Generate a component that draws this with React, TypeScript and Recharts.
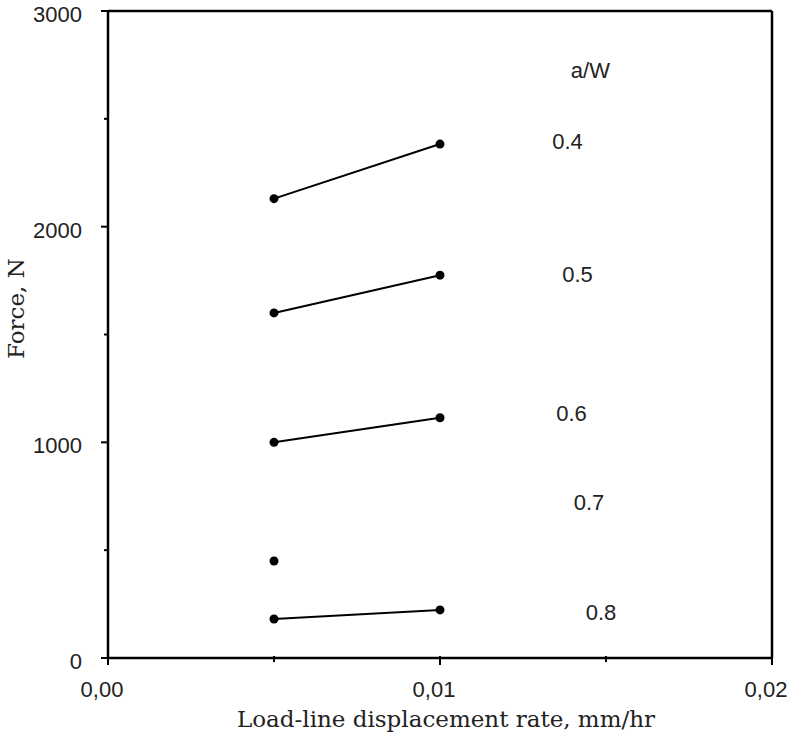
import { ComposedChart, Line, Scatter, XAxis, YAxis, ReferenceLine } from "recharts";

// displacement rates (mm/hr) at which each crack length was tested
const RATES = [0.005, 0.01];

// force (N) per a/W
const FORCE_04 = [2130, 2383];
const FORCE_05 = [1600, 1775];
const FORCE_06 = [1000, 1114];
const FORCE_07 = [450];
const FORCE_08 = [181, 223];

const SERIES = [
  { name: "0.4", values: FORCE_04 },
  { name: "0.5", values: FORCE_05 },
  { name: "0.6", values: FORCE_06 },
  { name: "0.7", values: FORCE_07 },
  { name: "0.8", values: FORCE_08 },
];

// text annotations, placed in data units
const NOTE_TEXT = ["a/W", "0.4", "0.5", "0.6", "0.7", "0.8"];
const NOTE_X = [0.01453, 0.01384, 0.01414, 0.01396, 0.01449, 0.01485];
const NOTE_Y = [2724, 2397, 1776, 1136, 723, 209];

const X_TICKS = [0, 0.005, 0.01, 0.015, 0.02];
const Y_TICKS = [0, 500, 1000, 1500, 2000, 2500, 3000];

const SANS = "'Liberation Sans', Arial, sans-serif";
const SERIF = "'DejaVu Serif', serif";
const INK = "#222";

const notes = NOTE_TEXT.map((text, i) => ({ x: NOTE_X[i], y: NOTE_Y[i], text }));

const YTick = ({ x, y, payload }: any) => {
  const major = payload.value % 1000 === 0;
  return (
    <g>
      <line x1={x - (major ? 7 : 4)} x2={x} y1={y} y2={y} stroke="#000" strokeWidth={2} />
      {major && (
        <text x={x - 26} y={y + 11} textAnchor="end" fontFamily={SANS} fontSize={22} fill={INK}>
          {payload.value}
        </text>
      )}
    </g>
  );
};

const XTick = ({ x, y, payload }: any) => {
  const major = Math.abs((payload.value * 100) % 1) < 1e-6;
  return (
    <g>
      <line x1={x} x2={x} y1={y - 2} y2={y + (major ? 7 : 4)} stroke="#000" strokeWidth={2} />
      {major && (
        <text x={x - 6} y={y + 39} textAnchor="middle" fontFamily={SANS} fontSize={22} fill={INK}>
          {payload.value.toFixed(2).replace(".", ",")}
        </text>
      )}
    </g>
  );
};

const YTitle = ({ viewBox }: any) => {
  const x = viewBox.x + 24;
  const y = viewBox.y + viewBox.height * 0.46;
  return (
    <text x={x} y={y} transform={`rotate(-90, ${x}, ${y})`} textAnchor="middle" fontFamily={SERIF} fontSize={23} fill={INK}>
      Force, N
    </text>
  );
};

const XTitle = ({ viewBox }: any) => (
  <text x={viewBox.x + viewBox.width / 2 + 6} y={viewBox.y + 69} textAnchor="middle" fontFamily={SERIF} fontSize={23} fill={INK}>
    Load-line displacement rate, mm/hr
  </text>
);

const NoteShape = ({ cx, cy, payload }: any) => (
  <text x={cx} y={cy} textAnchor="middle" dominantBaseline="central" fontFamily={SANS} fontSize={22} fill={INK}>
    {payload.text}
  </text>
);

export default function App() {
  return (
    <div style={{ position: "fixed", left: 0, top: 0, background: "#fff" }}>
      <ComposedChart width={790} height={742} margin={{ top: 11, right: 18, bottom: 0, left: 0 }}>
        <XAxis
          type="number"
          dataKey="x"
          domain={[0, 0.02]}
          ticks={X_TICKS}
          interval={0}
          height={84}
          tickSize={0}
          tickMargin={0}
          tick={<XTick />}
          axisLine={{ stroke: "#000", strokeWidth: 2.5 }}
          label={<XTitle />}
        />
        <YAxis
          type="number"
          dataKey="y"
          domain={[0, 3000]}
          ticks={Y_TICKS}
          interval={0}
          width={108}
          tickSize={0}
          tickMargin={0}
          tick={<YTick />}
          axisLine={{ stroke: "#000", strokeWidth: 2.5 }}
          label={<YTitle />}
        />
        <ReferenceLine y={3000} stroke="#000" strokeWidth={2.5} />
        <ReferenceLine x={0.02} stroke="#000" strokeWidth={2.5} />
        {SERIES.map((s) => (
          <Line
            key={s.name}
            data={s.values.map((v, i) => ({ x: RATES[i], y: v }))}
            dataKey="y"
            stroke="#000"
            strokeWidth={2}
            dot={{ r: 4.5, fill: "#000", stroke: "#000", strokeWidth: 0 }}
            isAnimationActive={false}
          />
        ))}
        <Scatter data={notes} dataKey="y" shape={<NoteShape />} isAnimationActive={false} />
      </ComposedChart>
    </div>
  );
}
